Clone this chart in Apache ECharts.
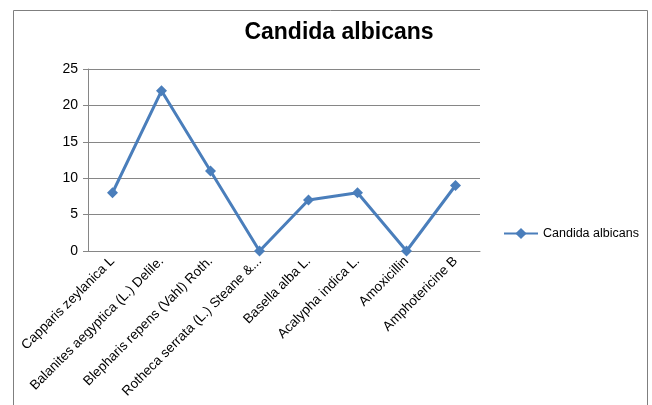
<!DOCTYPE html>
<html>
<head>
<meta charset="utf-8">
<script src="https://cdn.jsdelivr.net/npm/echarts@6/dist/echarts.min.js"></script>
<style>
html, body { margin: 0; padding: 0; background: #fff; }
#chart { width: 652px; height: 405px; }
</style>
</head>
<body>
<div id="chart"></div>
<script>
var categories = ['Capparis zeylanica L', 'Balanites aegyptica (L.) Delile.', 'Blepharis repens (Vahl) Roth.',
    'Rotheca serrata (L.) Steane &...', 'Basella alba L.', 'Acalypha indica L.', 'Amoxicillin', 'Amphotericine B'];
var values = [8, 22, 11, 0, 7, 8, 0, 9];
var yTicks = [0, 5, 10, 15, 20, 25];
var seriesName = 'Candida albicans';

var chart = echarts.init(document.getElementById('chart'));
var font = 'Liberation Sans';
chart.setOption({
    animation: false,
    title: {
        text: 'Candida albicans',
        left: 334, top: 16, textAlign: 'center',
        textStyle: { fontFamily: font, fontSize: 23, fontWeight: 'bold', color: '#000' }
    },
    graphic: [{
        type: 'rect',
        shape: { x: 13.5, y: 10.5, width: 634, height: 420 },
        style: { fill: 'none', stroke: '#7f7f7f', lineWidth: 1 },
        silent: true
    }],
    legend: {
        left: 498, top: 222,
        itemWidth: 34, itemHeight: 14, itemGap: 3,
        textStyle: { fontFamily: font, fontSize: 12.5, color: '#000' },
        data: [seriesName]
    },
    grid: { left: 88, right: 172, top: 69, bottom: 154 },
    xAxis: {
        type: 'category',
        data: categories,
        boundaryGap: true,
        axisLine: { lineStyle: { color: '#868686' } },
        axisTick: { length: 5, lineStyle: { color: '#868686' } },
        axisLabel: { rotate: 45, fontFamily: font, fontSize: 13.5, color: '#000', interval: 0, margin: 8 }
    },
    yAxis: {
        type: 'value',
        min: yTicks[0], max: yTicks[yTicks.length - 1], interval: 5,
        axisLine: { show: true, lineStyle: { color: '#868686' } },
        axisTick: { show: true, length: 5, lineStyle: { color: '#868686' } },
        axisLabel: { fontFamily: font, fontSize: 14, color: '#000', margin: 10 },
        splitLine: { lineStyle: { color: '#868686' } }
    },
    series: [{
        name: seriesName,
        type: 'line',
        data: values,
        symbol: 'diamond',
        symbolSize: 11,
        color: '#4a7ebb',
        lineStyle: { width: 3, color: '#4a7ebb' },
        itemStyle: { color: '#4a7ebb' }
    }]
});
</script>
</body>
</html>
